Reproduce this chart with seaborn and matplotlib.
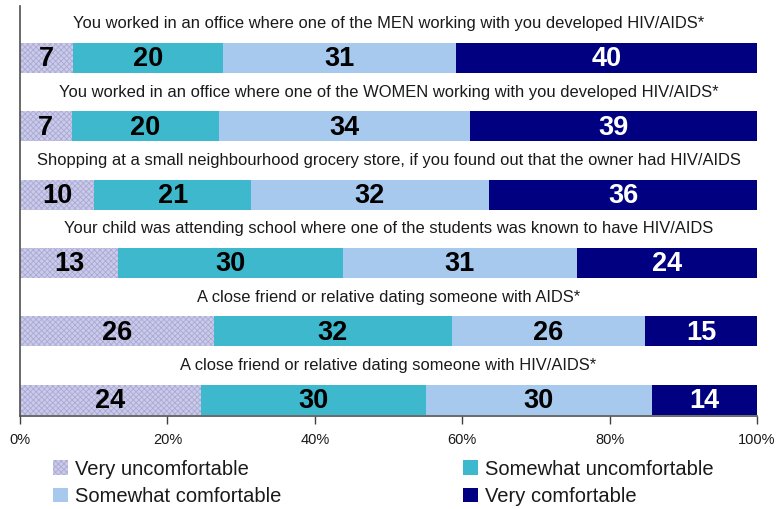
import matplotlib
matplotlib.use('Agg')
import matplotlib.pyplot as plt
from matplotlib.patches import Patch
from matplotlib.ticker import FuncFormatter
import seaborn as sns
import pandas as pd
import numpy as np

# data
items = [
    'You worked in an office where one of the MEN working with you developed HIV/AIDS*',
    'You worked in an office where one of the WOMEN working with you developed HIV/AIDS*',
    'Shopping at a small neighbourhood grocery store, if you found out that the owner had HIV/AIDS',
    'Your child was attending school where one of the students was known to have HIV/AIDS',
    'A close friend or relative dating someone with AIDS*',
    'A close friend or relative dating someone with HIV/AIDS*',
]
very_uncomf = [7, 7, 10, 13, 26, 24]
somewhat_uncomf = [20, 20, 21, 30, 32, 30]
somewhat_comf = [31, 34, 32, 31, 26, 30]
very_comf = [40, 39, 36, 24, 15, 14]

series = ['Very uncomfortable', 'Somewhat uncomfortable', 'Somewhat comfortable', 'Very comfortable']
colors = ['#cbcbe9', '#3db8cc', '#a7c9ee', '#000080']
text_colors = ['black', 'black', 'black', 'white']

ARIAL = ['Liberation Sans', 'DejaVu Sans']

sns.set_style('white')
plt.rcParams['font.family'] = ARIAL
plt.rcParams['hatch.linewidth'] = 0.6

df = pd.DataFrame({'item': items,
                   series[0]: very_uncomf,
                   series[1]: somewhat_uncomf,
                   series[2]: somewhat_comf,
                   series[3]: very_comf})
vals = df[series].to_numpy(dtype=float)
shares = vals / vals.sum(axis=1, keepdims=True) * 100
cum = np.cumsum(shares, axis=1)

fig = plt.figure(figsize=(7.76, 5.09), dpi=100)
ax = fig.add_axes([0.0258, 0.183, 0.9497, 0.805])

BAR_H = 0.44
# draw from the longest cumulative layer to the shortest
for k in range(3, -1, -1):
    n_before = len(ax.patches)
    sns.barplot(x=cum[:, k], y=df['item'], orient='h', color=colors[k],
                saturation=1, width=BAR_H, ax=ax, linewidth=0)
    if k == 0:
        for p in ax.patches[n_before:]:
            p.set_hatch('xxxxxx')
            p.set_edgecolor('#a9a9d6')
            p.set_linewidth(0)

for i in range(len(items)):
    for k in range(4):
        left = cum[i, k] - shares[i, k]
        ax.text(left + shares[i, k] / 2, i + 0.02, str(int(vals[i, k])),
                ha='center', va='center', fontsize=19.5, fontweight='bold',
                color=text_colors[k])
    ax.text(50, i - 0.5, items[i], ha='center', va='center',
            fontsize=11.9, color='#1a1a1a')

ax.set_xlim(0, 100)
ax.set_ylim(5.235, -0.76)
ax.set_yticks([])
ax.set_ylabel('')
ax.set_xlabel('')
ax.set_xticks([0, 20, 40, 60, 80, 100])
ax.xaxis.set_major_formatter(FuncFormatter(lambda v, _: f'{int(v)}%'))
ax.tick_params(axis='x', direction='out', length=6, width=1, color='#404040',
               labelsize=10.5, labelcolor='#1a1a1a', pad=6, bottom=True)
for s in ['top', 'right']:
    ax.spines[s].set_visible(False)
for s in ['left', 'bottom']:
    ax.spines[s].set_color('#505050')
    ax.spines[s].set_linewidth(1.2)

handles = []
for k in [0, 2, 1, 3]:
    h = Patch(facecolor=colors[k], edgecolor='#a9a9d6' if k == 0 else colors[k],
              linewidth=0, hatch='xxxxxx' if k == 0 else None, label=series[k])
    handles.append(h)
fig.legend(handles=handles, loc='upper left', bbox_to_anchor=(0.068, 0.097),
           ncol=2, frameon=False, prop={'size': 14.5},
           labelcolor='#1a1a1a',
           handlelength=0.75, handleheight=0.75, handletextpad=0.35,
           labelspacing=0.42, columnspacing=9.0, borderpad=0, borderaxespad=0)

fig.savefig('out.png', dpi=100)
